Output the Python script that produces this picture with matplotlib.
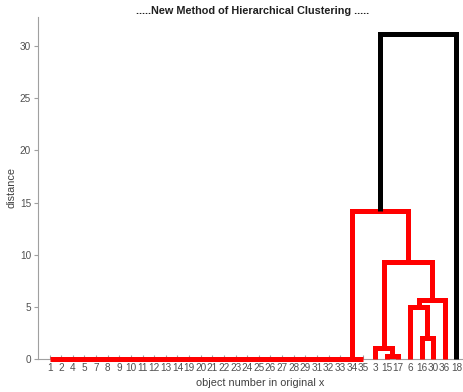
import matplotlib
matplotlib.use("Agg")
import matplotlib.pyplot as plt

# ---- data ----
# leaves that merge at distance 0 one after another (chain)
zero_chain = [1, 2, 4, 5, 7, 8, 9, 10, 11, 12, 13, 14, 19, 20, 21, 22, 23, 24,
              25, 26, 27, 28, 29, 31, 32, 33, 34, 35]
chain_height = 0.0
# remaining merges: (left, right, height); ints are leaf labels, strings are clusters
merge_names = ["A", "B", "C", "D", "E", "F", "G", "H"]
merge_left = [15, 3, 16, 6, "D", "B", "CHAIN", "G"]
merge_right = [17, "A", 30, "C", 36, "E", "F", 18]
merge_height = [0.25, 1.1, 2.0, 5.0, 5.7, 9.3, 14.2, 31.2]

title = ".....New Method of Hierarchical Clustering ....."
xlabel = "object number in original x"
ylabel = "distance"
yticks = [0, 5, 10, 15, 20, 25, 30]

# ---- build tree ----
children = {}
heights = {}
prev = zero_chain[0]
for i, leaf in enumerate(zero_chain[1:]):
    name = "CHAIN" if i == len(zero_chain) - 2 else f"z{i}"
    children[name] = (prev, leaf)
    heights[name] = chain_height
    prev = name
for n, l, r, h in zip(merge_names, merge_left, merge_right, merge_height):
    children[n] = (l, r)
    heights[n] = h

root = merge_names[-1]
leaf_order = []


def collect(node):
    if node in children:
        a, b = children[node]
        collect(a)
        collect(b)
    else:
        leaf_order.append(node)


collect(root)
pos = {leaf: i + 1 for i, leaf in enumerate(leaf_order)}


def xpos(node):
    if node in pos:
        return pos[node]
    a, b = children[node]
    p = (xpos(a) + xpos(b)) / 2.0
    pos[node] = p
    return p


def ypos(node):
    return heights.get(node, 0.0)


xpos(root)
threshold = 0.7 * max(merge_height)

fig = plt.figure(figsize=(4.64, 3.92), dpi=100)
ax = fig.add_axes([38 / 464, 33 / 392, 430 / 464, 342 / 392])

# draw links (children before parents so parents overlay)
for node in children:
    a, b = children[node]
    h = heights[node]
    color = "#ff0000" if h < threshold else "#000000"
    ax.plot([pos[a], pos[a], pos[b], pos[b]], [ypos(a), h, h, ypos(b)],
            color=color, lw=3.6, solid_joinstyle="miter", solid_capstyle="butt",
            zorder=3, clip_on=False)

ax.set_xlim(0, 37)
ax.set_ylim(0, 32.8)
ax.set_xticks(range(1, len(leaf_order) + 1))
ax.set_xticklabels([str(l) for l in leaf_order])
ax.set_yticks(yticks)

fam = ["Liberation Sans", "DejaVu Sans"]
for lab in ax.get_xticklabels() + ax.get_yticklabels():
    lab.set_fontfamily(fam)
    lab.set_fontsize(7.2)
    lab.set_color("#505050")

ax.tick_params(axis="y", direction="out", length=3, color="#a0a0a0", pad=2)
ax.tick_params(axis="x", direction="in", length=3, color="#a0a0a0", pad=3)
for s in ["top", "right"]:
    ax.spines[s].set_visible(False)
for s in ["left", "bottom"]:
    ax.spines[s].set_color("#a0a0a0")
    ax.spines[s].set_linewidth(0.8)

ax.set_title(title, family=fam, fontsize=7.8, fontweight="bold", color="#202020", pad=2,
             x=(253 - 38) / 430)
ax.set_xlabel(xlabel, family=fam, fontsize=7.8, color="#404040")
ax.set_ylabel(ylabel, family=fam, fontsize=7.8, color="#404040")
ax.xaxis.set_label_coords((260 - 38) / 430, -0.055)
ax.yaxis.set_label_coords(-(38 - 17) / 430, 0.5)

fig.savefig("out.png", dpi=100)
